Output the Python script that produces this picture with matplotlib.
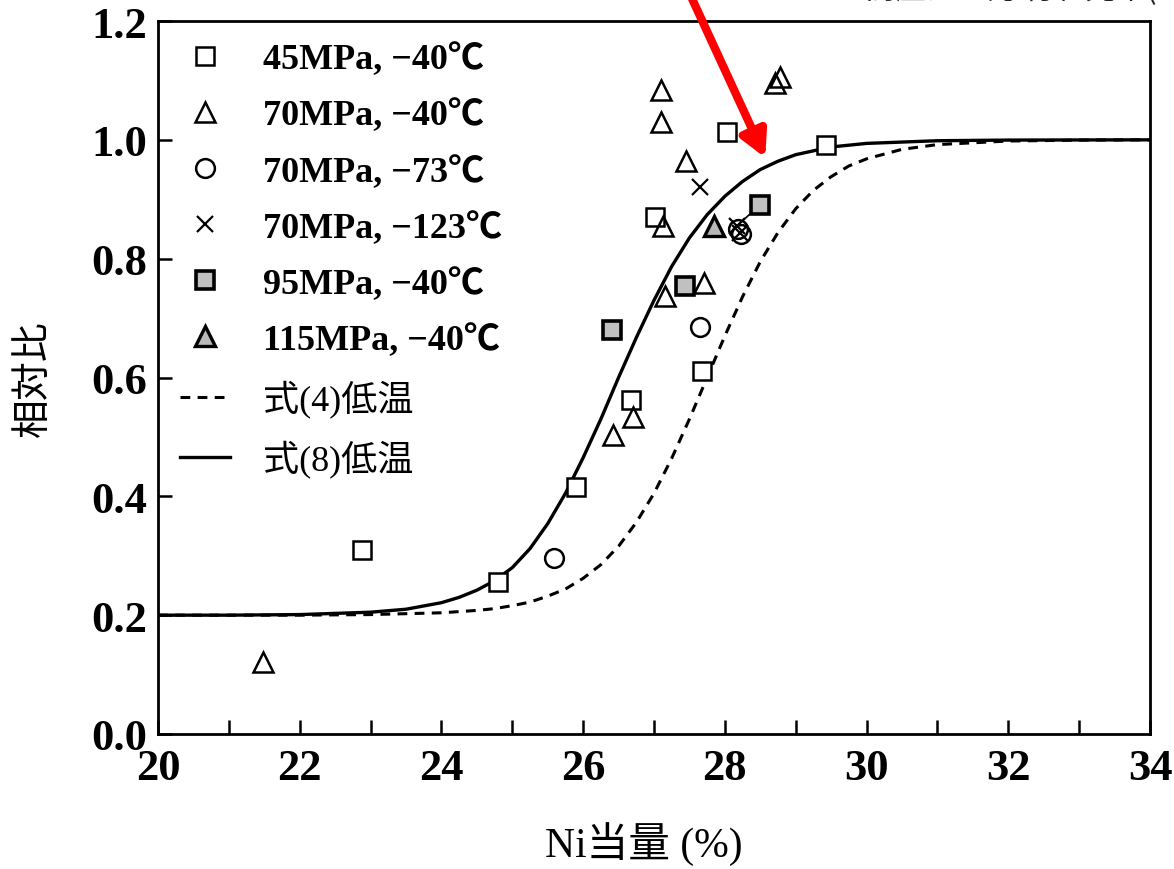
import matplotlib
matplotlib.use("Agg")
import matplotlib.pyplot as plt
from matplotlib.ticker import MultipleLocator

# ---------------- data ----------------
sq45_x = [22.88, 24.80, 25.90, 26.68, 27.68, 27.01, 28.03, 29.43]
sq45_y = [0.310, 0.256, 0.416, 0.562, 0.611, 0.870, 1.013, 0.992]

tri70_x = [21.48, 26.42, 26.70, 27.13, 27.10, 27.10, 27.45, 27.16, 27.70, 28.71, 28.78]
tri70_y = [0.122, 0.503, 0.533, 0.855, 1.084, 1.030, 0.965, 0.737, 0.759, 1.096, 1.106]

cir73_x = [25.59, 27.65, 28.19, 28.23]
cir73_y = [0.297, 0.685, 0.850, 0.842]

x123_x = [27.65, 28.17, 28.22]
x123_y = [0.921, 0.855, 0.843]

sq95_x = [26.41, 27.44, 28.50]
sq95_y = [0.680, 0.754, 0.891]

tri115_x = [27.85]
tri115_y = [0.855]

# model curves
eq8_x = [20, 21, 22, 23, 23.5, 24, 24.25, 24.5, 24.75, 25, 25.25, 25.5, 25.75, 26, 26.25,
         26.5, 26.75, 27, 27.25, 27.5, 27.75, 28, 28.25, 28.5, 28.75, 29, 29.5, 30, 31, 32, 34]
eq8_y = [0.200, 0.200, 0.201, 0.205, 0.210, 0.221, 0.230, 0.242, 0.258, 0.280, 0.312, 0.354,
         0.405, 0.465, 0.530, 0.600, 0.667, 0.730, 0.787, 0.835, 0.874, 0.905, 0.930, 0.950,
         0.964, 0.975, 0.988, 0.994, 0.9985, 0.9996, 1.000]

eq4_x = [20, 22, 23, 24, 24.5, 24.75, 25, 25.25, 25.5, 25.75, 26, 26.25, 26.5, 26.75, 27,
         27.25, 27.5, 27.75, 28, 28.25, 28.5, 28.75, 29, 29.25, 29.5, 29.75, 30, 30.5, 31,
         32, 33, 34]
eq4_y = [0.200, 0.200, 0.201, 0.204, 0.208, 0.211, 0.216, 0.222, 0.232, 0.244, 0.262, 0.285,
         0.316, 0.356, 0.405, 0.464, 0.530, 0.600, 0.670, 0.736, 0.795, 0.844, 0.884, 0.915,
         0.938, 0.956, 0.968, 0.984, 0.992, 0.998, 0.9995, 1.000]

x_ticks = [20, 22, 24, 26, 28, 30, 32, 34]
y_ticks = [0.0, 0.2, 0.4, 0.6, 0.8, 1.0, 1.2]

labels = ["45MPa, \u221240\u2103", "70MPa, \u221240\u2103", "70MPa, \u221273\u2103",
          "70MPa, \u2212123\u2103", "95MPa, \u221240\u2103", "115MPa, \u221240\u2103",
          "式(4)低温", "式(8)低温"]

# ---------------- figure ----------------
SERIF = ["Liberation Serif", "Noto Sans CJK JP", "DejaVu Sans"]
CJK = ["Noto Sans CJK JP", "DejaVu Sans"]

fig = plt.figure(figsize=(11.74, 8.70), dpi=100)
ax = fig.add_axes([158 / 1174, 135 / 870, (1150 - 158) / 1174, (735 - 22) / 870])

ax.plot(eq4_x, eq4_y, ls=(0, (3.2, 2.4)), color="black", lw=2.2, label=labels[6], zorder=2)
ax.plot(eq8_x, eq8_y, ls="-", color="black", lw=2.4, label=labels[7], zorder=2)

# leader line between a cross and a filled square
ax.plot([x123_x[1], sq95_x[2]], [x123_y[1], sq95_y[2]], color="black", lw=1.2, zorder=3)

h1, = ax.plot(sq45_x, sq45_y, ls="none", marker="s", ms=13.5, mfc="white", mec="black", mew=1.8, zorder=4)
h2, = ax.plot(tri70_x, tri70_y, ls="none", marker="^", ms=15, mfc="none", mec="black", mew=1.8, zorder=4)
h3, = ax.plot(cir73_x, cir73_y, ls="none", marker="o", ms=13.5, mfc="none", mec="black", mew=1.8, zorder=4)
h4, = ax.plot(x123_x, x123_y, ls="none", marker="x", ms=11, mec="black", mew=1.6, zorder=4)
h5, = ax.plot(sq95_x, sq95_y, ls="none", marker="s", ms=13.5, mfc="#c0c0c0", mec="black", mew=2.6, zorder=5)
h6, = ax.plot(tri115_x, tri115_y, ls="none", marker="^", ms=15, mfc="#b8b8b8", mec="black", mew=2.4, zorder=5)

ax.set_xlim(20, 34)
ax.set_ylim(0, 1.2)
ax.set_xticks(x_ticks)
ax.set_yticks(y_ticks)
ax.xaxis.set_minor_locator(MultipleLocator(1))
ax.set_xticklabels([str(v) for v in x_ticks])
ax.set_yticklabels([f"{v:.1f}" for v in y_ticks])
ax.tick_params(axis="x", which="both", direction="in", length=10, width=1.8, top=False,
               pad=10)
ax.tick_params(axis="y", which="both", direction="in", length=10, width=1.8, right=False,
               pad=8)
for lab in ax.get_xticklabels() + ax.get_yticklabels():
    lab.set_family(["Liberation Serif"])
    lab.set_fontsize(32)
    lab.set_fontweight("bold")
for s in ax.spines.values():
    s.set_linewidth(2.0)

ax.set_ylabel("相対比", family=CJK, fontsize=28)
ax.yaxis.set_label_coords(-0.106, 0.5)
ax.set_xlabel("Ni当量 (%)", family=["Liberation Serif", "Noto Sans CJK JP"], fontsize=30)
ax.xaxis.set_label_coords(0.49, -0.122)

handles = [h1, h2, h3, h4, h5, h6] + ax.get_lines()[:2]
leg = ax.legend(handles, labels, loc="upper left", bbox_to_anchor=(0.0, 1.0),
                frameon=False, handlelength=1.4, handletextpad=0.9, labelspacing=0.62,
                borderaxespad=0.2, borderpad=0.4,
                prop={"family": SERIF, "size": 26, "weight": "bold"})
for t in leg.get_texts()[6:]:
    t.set_fontweight("normal")
    t.set_family(["Liberation Serif", "Noto Sans CJK JP"])

# red arrow
ax.annotate("", xy=(28.57, 0.970), xytext=(27.45, 1.26), xycoords="data", textcoords="data",
            annotation_clip=False,
            arrowprops=dict(arrowstyle="-|>,head_length=1.5,head_width=0.8", color="red",
                            lw=6, shrinkA=0, shrinkB=0), zorder=6)

# clipped caption at the very top right
fig.text(865 / 1174, 1 - 6 / 870, "高圧ガス認 行和允率(", family=CJK, fontsize=22,
         ha="left", va="bottom", color="#222222")

fig.savefig("out.png", dpi=100)
